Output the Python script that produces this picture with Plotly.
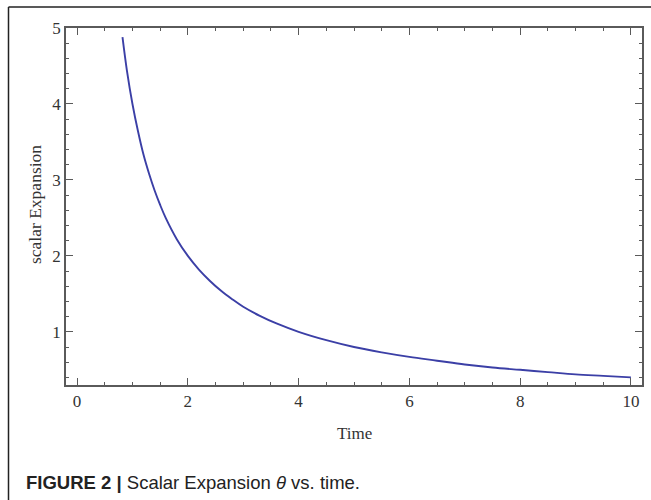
import plotly.graph_objects as go

# Data
time = [0.82, 0.9, 1.0, 1.1, 1.2, 1.3, 1.4, 1.5, 1.6, 1.8, 2.0, 2.2, 2.4, 2.6, 2.8,
        3.0, 3.3, 3.6, 4.0, 4.5, 5.0, 5.5, 6.0, 6.5, 7.0, 7.5, 8.0, 8.5, 9.0, 9.5, 10.0]
theta = [4.88, 4.44, 4.0, 3.64, 3.33, 3.08, 2.86, 2.67, 2.5, 2.22, 2.0, 1.82, 1.67, 1.54, 1.43,
         1.33, 1.21, 1.11, 1.0, 0.89, 0.8, 0.73, 0.67, 0.62, 0.57, 0.53, 0.5, 0.47, 0.44, 0.42, 0.4]
x_ticks = [0, 2, 4, 6, 8, 10]
y_ticks = [1, 2, 3, 4, 5]

W, H = 651, 500
L, R, T, B = 66, 9, 28, 115
pw, ph = W - L - R, H - T - B

def px(x):
    return (x - L) / pw

def py(y):
    return (H - B - y) / ph

fig = go.Figure()
fig.add_trace(go.Scatter(x=time, y=theta, mode="lines", line=dict(color="#3b3fa6", width=1.9, shape="spline"),
                         showlegend=False, hoverinfo="skip"))

axcol = "#5a5a5a"
tickfont = dict(family="Liberation Serif", size=17, color="#333333")
fig.update_xaxes(range=[-0.2, 10.2], tickvals=x_ticks, ticks="inside", ticklen=7, tickcolor=axcol, tickwidth=1,
                 showline=True, linecolor=axcol, linewidth=1.5, mirror="allticks", showgrid=False, zeroline=False,
                 tickfont=tickfont,
                 minor=dict(ticks="inside", dtick=0.5, tick0=0, ticklen=3, tickcolor=axcol, showgrid=False))
fig.update_yaxes(range=[0.3, 5.0], tickvals=y_ticks, ticks="inside", ticklen=7, tickcolor=axcol, tickwidth=1,
                 showline=True, linecolor=axcol, linewidth=1.5, mirror="allticks", showgrid=False, zeroline=False,
                 tickfont=tickfont,
                 minor=dict(ticks="inside", dtick=0.2, tick0=0, ticklen=3, tickcolor=axcol, showgrid=False))

fig.add_annotation(text="Time", xref="paper", yref="paper", x=px(354), y=py(433), xanchor="center",
                   yanchor="middle", showarrow=False,
                   font=dict(family="Liberation Serif", size=17, color="#333333"))
fig.add_annotation(text="scalar Expansion", xref="paper", yref="paper", x=px(35), y=py(205), xanchor="center",
                   yanchor="middle", showarrow=False,
                   textangle=-90, font=dict(family="Liberation Serif", size=17.5, color="#333333"))
fig.add_annotation(text="<b>FIGURE 2</b> <b>|</b> Scalar Expansion <i>θ</i> vs. time.", xref="paper", yref="paper",
                   x=px(24), y=py(482), xanchor="left", yanchor="middle", showarrow=False,
                   font=dict(family="Liberation Sans", size=18.5, color="#222222"))

fig.add_shape(type="line", xref="paper", yref="paper", x0=px(8.5), x1=px(651), y0=py(7), y1=py(7),
              line=dict(color="#222222", width=1.5))
fig.add_shape(type="line", xref="paper", yref="paper", x0=px(8.5), x1=px(8.5), y0=py(7), y1=py(500),
              line=dict(color="#222222", width=1.5))

fig.update_layout(width=W, height=H, margin=dict(l=L, r=R, t=T, b=B, autoexpand=False),
                  plot_bgcolor="white", paper_bgcolor="white")
fig.write_html("out.html")
